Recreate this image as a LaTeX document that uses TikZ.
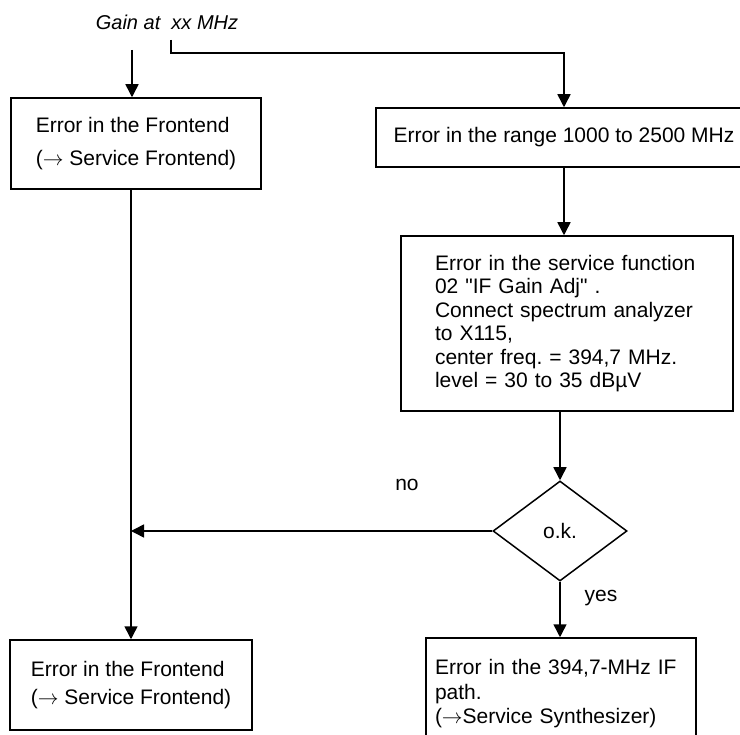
\documentclass[tikz,border=0pt]{standalone}
\usepackage{fontspec}
\setmainfont{Liberation Sans}
\usetikzlibrary{arrows.meta,shapes.geometric}
\frenchspacing

\begin{document}
\begin{tikzpicture}[
    >={Triangle[length=13pt,width=13pt]},
    x=1pt,
    y=-1pt,
    font=\fontsize{21}{23.5}\selectfont,
    line width=1.5pt,
    box/.style={draw, rectangle, inner sep=0pt, align=left},
    decision/.style={draw, diamond, inner sep=0pt, minimum width=134pt, minimum height=100pt}
]

% column positions
\def\xL{131}    % left column
\def\xR{560}    % right column

\useasboundingbox (0,0) rectangle (740,735);

% ---------------- Header ----------------
\node[font=\fontsize{20}{23.5}\selectfont\itshape] (gain) at (167,22) {Gain at\ \ xx MHz};
\coordinate (lstart) at (132,50);
\coordinate (bstart) at (171,40);

% ---------------- Left column ----------------
\node[box, minimum width=250pt, minimum height=91pt] (fe1) at (136,143.5)
    {Error in the Frontend\\[10pt](\(\rightarrow\) Service Frontend)};
\node[box, minimum width=242pt, minimum height=90pt] (fe2) at (\xL,685)
    {Error in the Frontend\\[4.5pt](\(\rightarrow\) Service Frontend)};

% ---------------- Right column ----------------
\node[box, minimum width=376pt, minimum height=59pt] (range) at (564,137.5)
    {Error in the range 1000 to 2500 MHz};
\node[box, text width=264pt, inner xsep=34pt, minimum height=175pt] (svc) at (567,323.5)
    {Error in the service function\\
     02 \textquotedbl IF Gain Adj\textquotedbl\ .\\
     Connect spectrum analyzer\\
     to X115,\\
     center freq. = 394,7 MHz.\\
     level = 30 to 35 dBµV};
\node[decision] (ok) at (\xR,531) {o.k.};
\node[box, text width=252pt, inner xsep=9pt, minimum height=112pt] (syn) at (561,694)
    {Error in the 394,7-MHz IF\\[1pt]
     path.\\[1pt]
     (\(\rightarrow\)Service Synthesizer)};

% branch labels
\node (no) at (407,485) {no};
\node (yes) at (601,598) {yes};

% ---------------- Connectors ----------------
\draw[->] (lstart) -- (lstart |- fe1.north);
\draw[->] (bstart) -- ++(0,13) -| (range.north);
\draw[->] (range.south) -- (range.south |- svc.north);
\draw[->] (ok.north |- svc.south) -- (ok.north);
\draw[->] (ok.south) -- (ok.south |- syn.north);
\draw[->] (fe2.north |- fe1.south) -- (fe2.north);
\draw[->] (ok.west) -- (ok.west -| fe2.north);

\end{tikzpicture}
\end{document}
